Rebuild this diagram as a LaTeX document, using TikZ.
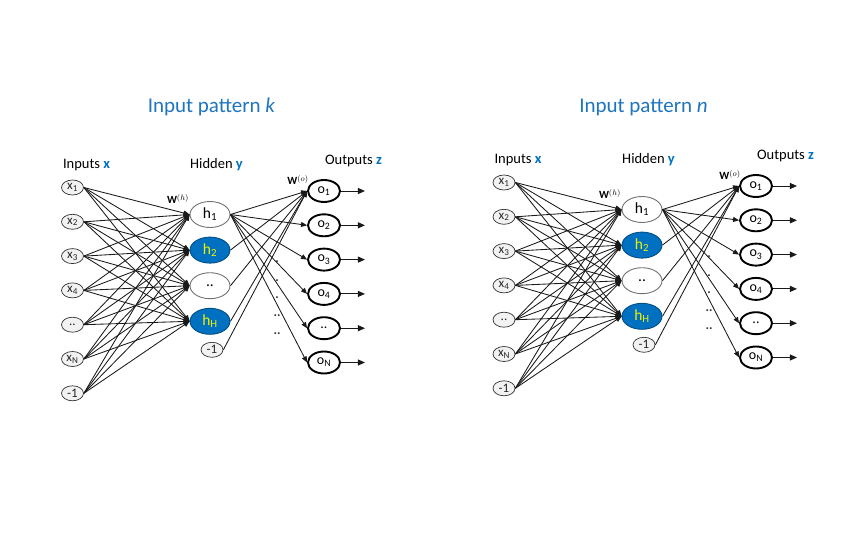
\documentclass[tikz,border=0pt]{standalone}
\usepackage{fontspec}
\setmainfont{Carlito}
\usetikzlibrary{shapes.geometric,arrows.meta}
\definecolor{myblue}{HTML}{0070C0}
\definecolor{ttlblue}{HTML}{1F74C0}
\definecolor{inpfill}{HTML}{F2F2F2}
\definecolor{hyellow}{HTML}{F2F200}
\tikzset{
  inp/.style={ellipse,draw=black!80,line width=0.7pt,fill=inpfill,minimum width=22pt,minimum height=15pt,inner sep=0pt,font=\fontsize{13}{13}\selectfont,text=black!85},
  hid/.style={ellipse,draw=black!55,line width=0.9pt,fill=white,minimum width=40pt,minimum height=26pt,inner sep=0pt,font=\fontsize{15.5}{15.5}\selectfont},
  hidb/.style={hid,fill=myblue,draw=myblue!70!black,text=hyellow},
  outn/.style={ellipse,draw=black,line width=1.9pt,fill=white,minimum width=32pt,minimum height=22pt,inner sep=0pt,font=\fontsize{14}{14}\selectfont},
  conn/.style={draw=black!90,line width=0.85pt},
  arr/.style={-{Triangle[length=6pt,width=5pt]}},
  oarr/.style={-{Triangle[length=7pt,width=6pt]}},
  hdr/.style={font=\fontsize{14.5}{14.5}\selectfont,inner sep=0pt},
  ttl/.style={font=\fontsize{21}{21}\selectfont,text=ttlblue,inner sep=0pt,anchor=base},
  wlab/.style={font=\fontsize{11}{11}\selectfont,inner sep=0pt},
  dotlab/.style={font=\fontsize{13}{13}\selectfont\bfseries,inner sep=0pt,text=black!80},
}
% #1 prefix, #2 in x, #3 in y1, #4 hid x, #5 hid y1, #6 out x, #7 out y1, #8 title letter
\newcommand\mynet[8]{%
  \foreach \i/\t in {1/x\textsubscript{1},2/x\textsubscript{2},3/x\textsubscript{3},4/x\textsubscript{4},5/..,6/x\textsubscript{N},7/-1}
    \node[inp] (#1x\i) at (#2,{#3+(\i-1)*34.3}) {\t};
  \node[hid]  (#1h1) at (#4,#5) {h\textsubscript{1}};
  \node[hidb] (#1h2) at (#4,{#5+35.6}) {h\textsubscript{2}};
  \node[hid]  (#1h3) at (#4,{#5+2*35.6}) {..};
  \node[hidb] (#1h4) at (#4,{#5+3*35.6}) {h\textsubscript{H}};
  \node[inp]  (#1hb) at ({#4+2},{#5+3*35.6+28.5}) {-1};
  \foreach \j/\t in {1/o\textsubscript{1},2/o\textsubscript{2},3/o\textsubscript{3},4/o\textsubscript{4},5/..,6/o\textsubscript{N}}{
    \node[outn] (#1o\j) at (#6,{#7+(\j-1)*34.3}) {\t};
    \coordinate (#1e\j) at ([xshift=24pt]#1o\j.east);
    \draw[conn,oarr] (#1o\j.east) -- (#1e\j);
  }
  \foreach \i in {1,...,7}
    \foreach \k in {1,...,4}
      \draw[conn,arr] (#1x\i.east) -- (#1h\k.west);
  \foreach \j in {1,...,6}
    \draw[conn,arr] (#1h1.east) -- (#1o\j.west);
  \foreach \k in {h2,h3,h4,hb}
    \draw[conn,arr] (#1\k.east) -- (#1o1.west);
  \node[wlab] (#1wh) at ({#4-32},{#5-15.5}) {$\mathbf{W}^{(h)}$};
  \node[wlab] (#1wo) at ({#6-26},{#7-11}) {$\mathbf{W}^{(o)}$};
  \node[dotlab] (#1d1) at ({#6-47},{#7+71}) {.};
  \node[dotlab] (#1d2) at ({#6-47},{#7+90}) {.};
  \node[dotlab] (#1d3) at ({#6-47},{#7+107}) {.};
  \node[dotlab] (#1d4) at ({#6-47},{#7+125}) {..};
  \node[dotlab] (#1d5) at ({#6-47},{#7+143}) {..};
  \node[hdr] (#1lin) at ({#2+14},{#3-22.5}) {Inputs \textcolor{myblue}{\textbf{x}}};
  \node[hdr] (#1lhid) at ({#4+6.5},{#5-49.5}) {Hidden \textcolor{myblue}{\textbf{y}}};
  \node[hdr] (#1lout) at ({#6+29.5},{#7-30}) {Outputs \textcolor{myblue}{\textbf{z}}};
  \node[ttl] (#1ttl) at ({#4+1.5},113) {Input pattern \textit{#8}};
}
\begin{document}
\begin{tikzpicture}[x=1pt,y=-1pt]
\useasboundingbox (0,0) rectangle (861,548);
\mynet{L}{72.5}{187.5}{210}{214.5}{324}{191}{k}
\mynet{R}{504}{182.5}{642}{209.5}{756}{186}{n}
\end{tikzpicture}
\end{document}
